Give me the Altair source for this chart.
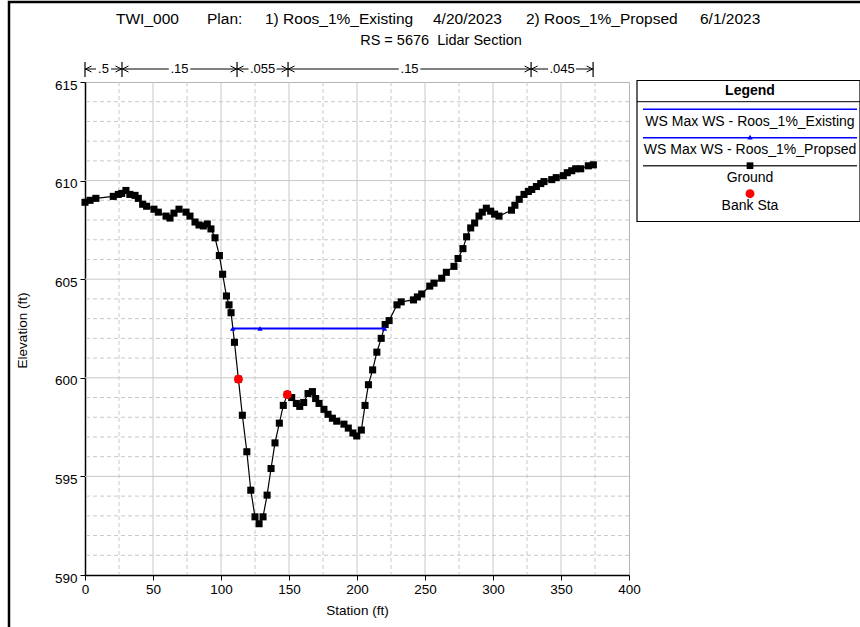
import altair as alt
import pandas as pd

FONT = "Liberation Sans"

# ---------------- data ----------------
station = [0, 3.7, 8, 20.8, 24.5, 27, 30.1, 33, 36.8, 39.2, 42.4, 45.3, 50.7, 53.9,
           59.6, 62.5, 65.4, 69.1, 74.3, 77.2, 80.9, 83.8, 87, 89.9, 92.6, 95.6, 98.8,
           101.2, 104, 105.9, 107.4, 109.9, 112.8, 115.7, 119, 121.9, 125, 128, 130.9,
           133.9, 136.8, 139.7, 142.9, 145.8, 148.8, 152, 155.4, 157.9, 160.8, 164,
           167.2, 169.6, 172.1, 175.7, 178.7, 181.9, 185.1, 190.4, 193.6, 197, 199.8,
           203.2, 205.9, 208.4, 211.5, 214.6, 217.8, 220.7, 223.6, 229.4, 232.5, 241.5,
           244.4, 247.6, 253.5, 256.6, 262.3, 265.7, 271.3, 274.3, 277.9, 280.6, 283.6,
           286.5, 289.7, 292.1, 295.1, 298.3, 301.2, 304.4, 313.6, 316.1, 319.3, 322.8,
           326, 328.5, 331.9, 335.1, 337.5, 343.2, 346.5, 351.7, 354.6, 357.9, 360.8,
           364.5, 370.1, 373.8]
elevation = [608.9, 609.0, 609.1, 609.2, 609.3, 609.35, 609.5, 609.3, 609.25, 609.1,
             608.8, 608.7, 608.55, 608.4, 608.2, 608.1, 608.35, 608.55, 608.4, 608.2,
             607.9, 607.75, 607.7, 607.8, 607.55, 607.1, 606.2, 605.25, 604.15, 603.7,
             603.3, 601.8, 599.93, 598.1, 596.25, 594.3, 592.95, 592.6, 592.95, 594.05,
             595.4, 596.7, 597.7, 598.6, 599.15, 599.0, 598.7, 598.55, 598.75, 599.2,
             599.3, 598.95, 598.7, 598.4, 598.15, 597.95, 597.8, 597.65, 597.45, 597.2,
             597.05, 597.35, 598.6, 599.65, 600.4, 601.3, 602.0, 602.7, 602.9, 603.7,
             603.85, 603.95, 604.1, 604.25, 604.65, 604.8, 605.05, 605.35, 605.65,
             606.05, 606.55, 607.15, 607.6, 607.85, 608.2, 608.4, 608.6, 608.45, 608.3,
             608.2, 608.5, 608.75, 609.05, 609.3, 609.45, 609.55, 609.7, 609.85, 609.95,
             610.05, 610.15, 610.25, 610.4, 610.5, 610.6, 610.6, 610.75, 610.8]

ws_station = [108.6, 220.2]
ws_elev = [602.5, 602.5]
ws_marker_station = [108.6, 128.7, 220.2]
ws_marker_elev = [602.5, 602.5, 602.5]

bank_station = [112.8, 148.8]
bank_elev = [599.93, 599.15]

n_breaks = [0, 27.2, 111.8, 149.3, 328.0, 373.6]
n_values = [".5", ".15", ".055", ".15", ".045"]

x_ticks = [0, 50, 100, 150, 200, 250, 300, 350, 400]
y_ticks = [590, 595, 600, 605, 610, 615]
x_major_grid = [50, 100, 150, 200, 250, 300, 350]
y_major_grid = [595, 600, 605, 610]
x_minor_grid = [25, 75, 125, 175, 225, 275, 325, 375]
y_minor_grid = [v for v in range(591, 615) if v % 5 != 0]

title_parts = ["TWI_000", "Plan:", "1) Roos_1%_Existing", "4/20/2023",
               "2) Roos_1%_Propsed", "6/1/2023"]
subtitle = "RS = 5676\u00a0\u00a0Lidar Section"
legend_labels = ["WS Max WS - Roos_1%_Existing", "WS Max WS - Roos_1%_Propsed",
                 "Ground", "Bank Sta"]

# ---------------- tables ----------------
ground_df = pd.DataFrame({"station": station, "elev": elevation})
ws_df = pd.DataFrame({"station": ws_station, "elev": ws_elev})
wsm_df = pd.DataFrame({"station": ws_marker_station, "elev": ws_marker_elev})
bank_df = pd.DataFrame({"station": bank_station, "elev": bank_elev})
n_df = pd.DataFrame({
    "left": n_breaks[:-1],
    "right": n_breaks[1:],
    "mid": [(a + b) / 2 for a, b in zip(n_breaks[:-1], n_breaks[1:])],
    "label": n_values,
    "w": [len(s) * 6.5 + 2 for s in n_values],
})
breaks_df = pd.DataFrame({"b": n_breaks})
nline_df = pd.DataFrame({"a": [n_breaks[0]], "b": [n_breaks[-1]]})
one = pd.DataFrame({"k": [0]})

xs = alt.Scale(domain=[0, 400], nice=False, zero=False)
ys = alt.Scale(domain=[590, 615], nice=False, zero=False)

GRID = "#c8c8c8"

XA = alt.Axis(values=x_ticks, grid=False, domainColor="black", domainWidth=1.5,
              tickColor="black", tickSize=5, tickWidth=1, labelFont=FONT,
              labelFontSize=13.5, labelColor="black", labelPadding=2, format="d",
              labelFlush=False, labelOverlap=False,
              title="Station (ft)", titleFont=FONT, titleFontSize=13.5,
              titleFontWeight="normal", titleColor="black", titleX=272, titleY=35,
              titleBaseline="middle", titleAlign="center")
YA = alt.Axis(values=y_ticks, grid=False, domainColor="black", domainWidth=1.5,
              tickColor="black", tickSize=5, tickWidth=1, labelFont=FONT,
              labelFontSize=13.5, labelColor="black", labelPadding=3, format="d",
              labelFlush=False, labelOverlap=False, labelOffset=3,
              title="Elevation (ft)", titleFont=FONT, titleFontSize=13.5,
              titleFontWeight="normal", titleColor="black", titleX=-63, titleY=248,
              titleBaseline="middle", titleAlign="center", titleAngle=270)


def X(field):
    return alt.X(field, scale=xs, axis=XA)


def Y(field):
    return alt.Y(field, scale=ys, axis=YA)


def txt(s, x, y, size=14.0, weight="normal", align="center"):
    return alt.Chart(one).mark_text(
        text=s, font=FONT, fontSize=size, fontWeight=weight, align=align,
        baseline="middle", color="black"
    ).encode(x=alt.value(x), y=alt.value(y))


def hrule(x1, x2, y, color="black", width=1.0):
    return alt.Chart(one).mark_rule(color=color, strokeWidth=width).encode(
        x=alt.value(x1), x2=alt.value(x2), y=alt.value(y))


def sym(shape, x, y, color, size):
    return alt.Chart(one).mark_point(shape=shape, filled=True, color=color, size=size,
                                     opacity=1).encode(x=alt.value(x), y=alt.value(y))


# ---------------- grid ----------------
def vgrid(vals, dash):
    return alt.Chart(pd.DataFrame({"v": vals})).mark_rule(
        color=GRID, strokeWidth=1, strokeDash=dash).encode(x=X("v:Q"))


def hgrid(vals, dash):
    return alt.Chart(pd.DataFrame({"v": vals})).mark_rule(
        color=GRID, strokeWidth=1, strokeDash=dash).encode(y=Y("v:Q"))


grid_layers = [
    vgrid(x_minor_grid, [4, 3]), hgrid(y_minor_grid, [4, 3]),
    vgrid(x_major_grid, [1, 0]), hgrid(y_major_grid, [1, 0]),
]

# ---------------- data marks ----------------
gbase = alt.Chart(ground_df).encode(x=X("station:Q"), y=Y("elev:Q"))
ground_line = gbase.mark_line(color="black", strokeWidth=1.2)
ground_pts = gbase.mark_point(shape="square", filled=True, size=50, color="black", opacity=1)

ws_line = alt.Chart(ws_df).mark_line(color="#0000ff", strokeWidth=2).encode(
    x=X("station:Q"), y=Y("elev:Q"))
ws_pts = alt.Chart(wsm_df).mark_point(shape="triangle-up", filled=True, size=30,
                                       color="#0000ff", opacity=1).encode(
    x=X("station:Q"), y=Y("elev:Q"))
bank_pts = alt.Chart(bank_df).mark_point(shape="circle", filled=True, size=80,
                                          color="#ff0000", opacity=1).encode(
    x=X("station:Q"), y=Y("elev:Q"))

# ---------------- Manning's n annotation ----------------
NY = -13
n_line = alt.Chart(nline_df).mark_rule(color="black", strokeWidth=1).encode(
    x=X("a:Q"), x2="b:Q", y=alt.value(NY))
n_bars = alt.Chart(breaks_df).mark_rule(color="black", strokeWidth=1.2).encode(
    x=X("b:Q"), y=alt.value(NY - 7), y2=alt.value(NY + 8))
n_bg = alt.Chart(n_df).mark_tick(orient="horizontal", thickness=12, color="white",
                                 opacity=1).encode(
    x=X("mid:Q"), y=alt.value(NY),
    size=alt.Size("w:Q", scale=None, legend=None))
n_txt = alt.Chart(n_df).mark_text(font=FONT, fontSize=13, baseline="middle",
                                  align="center", color="black").encode(
    x=X("mid:Q"), y=alt.value(NY), text="label:N")
arrow_l = alt.Chart(n_df).mark_point(shape="M1,-1L-1,0L1,1", filled=False, size=36,
                                     color="black", strokeWidth=1, opacity=1,
                                     xOffset=3.5).encode(x=X("left:Q"), y=alt.value(NY))
arrow_r = alt.Chart(n_df).mark_point(shape="M-1,-1L1,0L-1,1", filled=False, size=36,
                                     color="black", strokeWidth=1, opacity=1,
                                     xOffset=-3.5).encode(x=X("right:Q"), y=alt.value(NY))

# ---------------- titles ----------------
title_x = [116, 207, 265, 433, 526, 700]
title_layers = [txt(s, x - 85, 19 - 82, size=15.5, align="left")
                for s, x in zip(title_parts, title_x)]
title_layers.append(txt(subtitle, 441 - 85, 41 - 82, size=14.5))

# ---------------- outer frame ----------------
frame = alt.Chart(one).mark_rect(fillOpacity=0, stroke="black", strokeWidth=2.5).encode(
    x=alt.value(9 - 85), x2=alt.value(900), y=alt.value(2 - 82), y2=alt.value(700))

# ---------------- legend box ----------------
LX1, LX2, LC = 552, 775, 665
legend_layers = [
    alt.Chart(one).mark_rect(fill="white", stroke="black", strokeWidth=1.2).encode(
        x=alt.value(LX1), x2=alt.value(LX2), y=alt.value(-1.5), y2=alt.value(139.5)),
    txt("Legend", LC, 9, size=14, weight="bold"),
    hrule(LX1, LX2, 19.7, width=1),
    hrule(558, 772, 27.3, color="#0000ff", width=1.5),
    txt(legend_labels[0], LC, 40.3),
    hrule(558, 772, 55.7, color="#0000ff", width=1.5),
    sym("triangle-up", LC, 55.2, "#0000ff", 30),
    txt(legend_labels[1], LC, 68),
    hrule(558, 772, 83.7, color="#333333", width=1.6),
    sym("square", LC, 83.7, "black", 45),
    txt(legend_labels[2], LC, 96.3),
    sym("circle", LC, 111.7, "#ff0000", 80),
    txt(legend_labels[3], LC, 124),
]

layers = (grid_layers + [ground_line, ground_pts, ws_line, ws_pts, bank_pts,
          n_line, n_bars, n_bg, n_txt, arrow_l, arrow_r, frame] + title_layers + legend_layers)

chart = alt.layer(*layers).properties(
    width=544, height=493,
    autosize=alt.AutoSizeParams(type="none"),
    padding={"left": 85, "top": 82, "right": 231, "bottom": 52},
    background="white",
).configure_view(stroke="#b4b4b4", strokeWidth=1)

chart.save("out.html", embed_options={"renderer": "svg", "actions": False})
